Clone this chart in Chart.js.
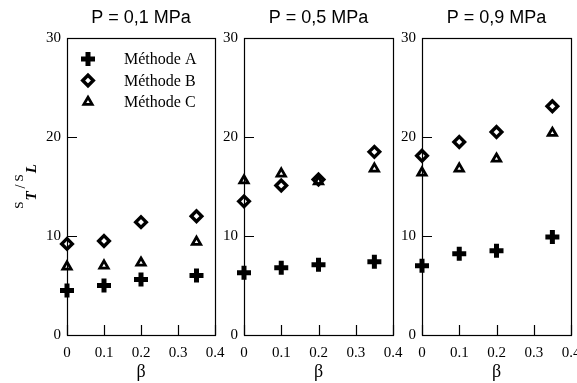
<!DOCTYPE html>
<html>
<head>
<meta charset="utf-8">
<script src="https://cdn.jsdelivr.net/npm/chart.js@4/dist/chart.umd.min.js"></script>
<style>
  html, body { margin: 0; padding: 0; background: #fff; }
  #wrap { position: relative; width: 577px; height: 383px; overflow: hidden; }
  #wrap canvas { position: absolute; left: 0; top: 0; }
</style>
</head>
<body>
<div id="wrap">
  <canvas id="p0" width="600" height="383"></canvas>
  <canvas id="p1" width="600" height="383"></canvas>
  <canvas id="p2" width="600" height="383"></canvas>
</div>
<script>
// data
const betas = [0, 0.1, 0.2, 0.35];
const panelTitles = ['P = 0,1 MPa', 'P = 0,5 MPa', 'P = 0,9 MPa'];
const methodNames = ['Méthode A', 'Méthode B', 'Méthode C'];
const methodA = [[4.5, 5.0, 5.6, 6.0], [6.3, 6.8, 7.1, 7.4], [7.0, 8.2, 8.5, 9.9]];
const methodB = [[9.2, 9.5, 11.4, 12.0], [13.5, 15.1, 15.7, 18.5], [18.1, 19.5, 20.5, 23.1]];
const methodC = [[6.9, 7.0, 7.3, 9.4], [15.6, 16.3, 15.5, 16.8], [16.4, 16.8, 17.8, 20.4]];
const xTicks = [0, 0.1, 0.2, 0.3, 0.4];
const xTickLabels = ['0', '0.1', '0.2', '0.3', '0.4'];
const yTicks = [0, 10, 20, 30];
const yTickLabels = ['0', '10', '20', '30'];

// where each panel sits on the 600px canvas: [left pad, y-axis width, right pad]
const panelBoxes = [[0, 67, 385], [194, 50, 207], [372, 50, 29]];

const SERIF = '"Liberation Serif", "Times New Roman", serif';
const SANS = '"Liberation Sans", Arial, sans-serif';
Chart.defaults.color = '#000';

const markers = [
  { pointStyle: 'cross', radius: 7, borderWidth: 5, backgroundColor: '#000' },
  { pointStyle: 'rectRot', radius: 5.3, borderWidth: 3.4, backgroundColor: 'rgba(0,0,0,0)' },
  { pointStyle: 'triangle', radius: 4.8, borderWidth: 2.8, backgroundColor: 'rgba(0,0,0,0)' }
];

function toPoints(ys) {
  return betas.map((b, i) => ({ x: b, y: ys[i] }));
}

// frame, inward ticks and panel title
const framePlugin = {
  id: 'frame',
  beforeDatasetsDraw(chart) {
    const ctx = chart.ctx;
    const a = chart.chartArea;
    const xs = chart.scales.x, ys = chart.scales.y;
    ctx.save();
    ctx.strokeStyle = '#000';
    ctx.lineWidth = 1.2;
    ctx.strokeRect(a.left + 0.5, a.top + 0.5, a.right - a.left, a.bottom - a.top);
    ctx.beginPath();
    xs.ticks.forEach(t => {
      const px = Math.round(xs.getPixelForValue(t.value)) + 0.5;
      ctx.moveTo(px, a.bottom);
      ctx.lineTo(px, a.bottom - 10);
    });
    ys.ticks.forEach(t => {
      const py = Math.round(ys.getPixelForValue(t.value)) + 0.5;
      ctx.moveTo(a.left, py);
      ctx.lineTo(a.left + 10, py);
    });
    ctx.stroke();
    ctx.fillStyle = '#000';
    ctx.font = '18px ' + SANS;
    ctx.textAlign = 'center';
    ctx.textBaseline = 'middle';
    ctx.fillText(chart.options.plugins.frame.title, (a.left + a.right) / 2, 18);
    ctx.restore();
  }
};

// legend and y title, only on the first panel
const sidePlugin = {
  id: 'side',
  afterDraw(chart) {
    const ctx = chart.ctx;
    const a = chart.chartArea;
    ctx.save();
    chart.data.datasets.forEach((ds, i) => {
      const y = 59 + i * 21.5;
      ctx.strokeStyle = '#000';
      ctx.fillStyle = ds.backgroundColor;
      ctx.lineWidth = ds.borderWidth;
      Chart.helpers.drawPoint(ctx, {
        pointStyle: ds.pointStyle, radius: ds.pointRadius, borderWidth: ds.borderWidth, rotation: 0
      }, 88, y);
      ctx.fillStyle = '#000';
      ctx.font = '16px ' + SERIF;
      ctx.textAlign = 'left';
      ctx.textBaseline = 'middle';
      ctx.fillText(ds.label, 124, y + 1);
    });

    // S_T / S_L, rotated
    const parts = [
      { t: 'S', f: '13px ' + SERIF, dy: 0, gap: 1 },
      { t: 'T', f: 'italic bold 15px ' + SERIF, dy: 13, gap: 3 },
      { t: '/', f: '14px ' + SERIF, dy: 2, gap: 3 },
      { t: 'S', f: '13px ' + SERIF, dy: 0, gap: 1 },
      { t: 'L', f: 'italic bold 15px ' + SERIF, dy: 13, gap: 0 }
    ];
    let total = 0;
    parts.forEach(p => { ctx.font = p.f; p.w = ctx.measureText(p.t).width; total += p.w + p.gap; });
    ctx.translate(23, (a.top + a.bottom) / 2);
    ctx.rotate(-Math.PI / 2);
    ctx.textAlign = 'left';
    ctx.textBaseline = 'alphabetic';
    let x = -total / 2;
    parts.forEach(p => {
      ctx.font = p.f;
      ctx.fillText(p.t, x, p.dy);
      x += p.w + p.gap;
    });
    ctx.restore();
  }
};

panelTitles.forEach((title, k) => {
  const box = panelBoxes[k];
  const series = [methodA[k], methodB[k], methodC[k]];
  new Chart(document.getElementById('p' + k), {
    type: 'scatter',
    data: {
      datasets: series.map((ys, i) => ({
        label: methodNames[i],
        data: toPoints(ys),
        pointStyle: markers[i].pointStyle,
        pointRadius: markers[i].radius,
        pointHoverRadius: markers[i].radius,
        borderWidth: markers[i].borderWidth,
        borderColor: '#000',
        backgroundColor: markers[i].backgroundColor,
        clip: false
      }))
    },
    options: {
      responsive: false,
      animation: false,
      events: [],
      layout: { padding: { left: box[0], right: box[2], top: 38, bottom: 0 } },
      plugins: {
        legend: { display: false },
        tooltip: { enabled: false },
        frame: { title: title }
      },
      scales: {
        x: {
          type: 'linear',
          min: 0,
          max: 0.4,
          afterBuildTicks: s => { s.ticks = xTicks.map(v => ({ value: v })); },
          afterFit: s => { s.height = 48; s.paddingLeft = 0; s.paddingRight = 0; },
          grid: { display: false, drawTicks: false },
          border: { display: false },
          ticks: {
            padding: 9,
            maxRotation: 0,
            autoSkip: false,
            font: { family: SERIF, size: 15 },
            callback: (v, i) => xTickLabels[i]
          },
          title: {
            display: true,
            text: 'β',
            font: { family: SERIF, size: 18 },
            padding: { top: 0, bottom: 0 }
          }
        },
        y: {
          type: 'linear',
          min: 0,
          max: 30,
          afterBuildTicks: s => { s.ticks = yTicks.map(v => ({ value: v })); },
          afterFit: s => { s.width = box[1]; s.paddingTop = 0; s.paddingBottom = 0; },
          grid: { display: false, drawTicks: false },
          border: { display: false },
          ticks: {
            padding: 6,
            autoSkip: false,
            font: { family: SERIF, size: 15 },
            callback: (v, i) => yTickLabels[i]
          }
        }
      }
    },
    plugins: k === 0 ? [framePlugin, sidePlugin] : [framePlugin]
  });
});
</script>
</body>
</html>
